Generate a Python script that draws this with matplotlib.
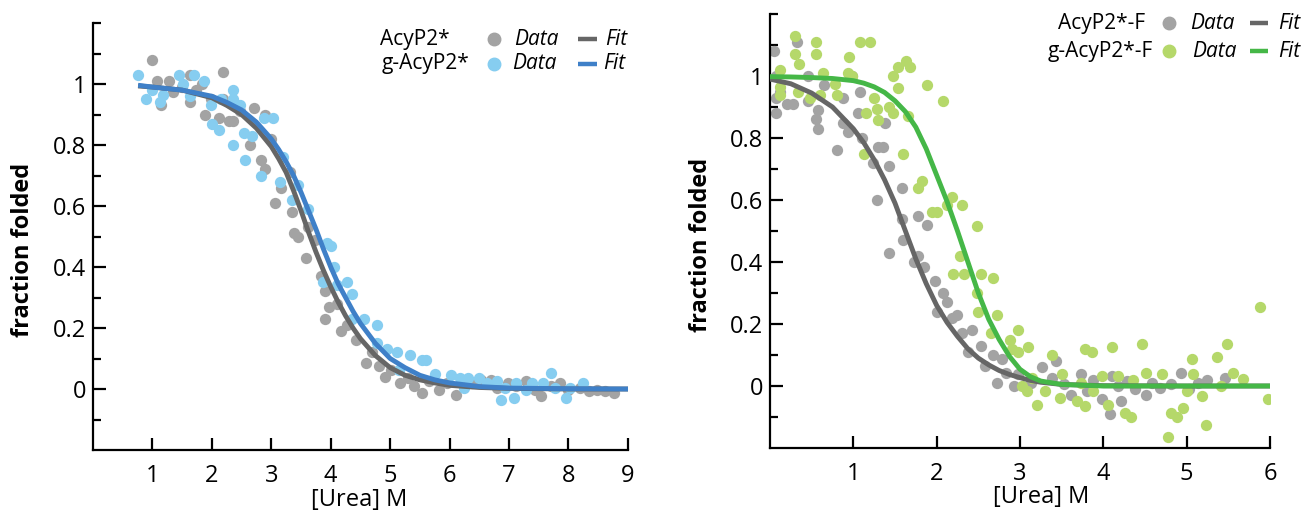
import numpy as np
import matplotlib.pyplot as plt
from matplotlib.ticker import FixedLocator

plt.rcParams['font.family'] = ['Open Sans', 'DejaVu Sans']

# --- lewy panel: AcyP2* / g-AcyP2* ---
acy_x = [1.0, 1.07, 1.14, 1.28, 1.35, 1.49, 1.63, 1.63, 1.73, 1.84, 1.89, 1.98, 2.12, 2.19, 2.19,
         2.29, 2.36, 2.47, 2.64, 2.71, 2.82, 2.89, 2.89, 2.99, 3.06, 3.17, 3.31, 3.34, 3.38, 3.45,
         3.59, 3.62, 3.73, 3.83, 3.90, 3.90, 3.97, 4.11, 4.18, 4.28, 4.42, 4.60, 4.70, 4.81, 4.91,
         5.02, 5.16, 5.30, 5.40, 5.54, 5.65, 5.82, 5.96, 6.10, 6.24, 6.38, 6.52, 6.69, 6.80, 6.98,
         7.11, 7.29, 7.43, 7.53, 7.71, 7.85, 7.99, 8.20, 8.34, 8.48, 8.62, 8.76]
acy_y = [1.08, 1.01, 0.93, 1.01, 0.975, 0.99, 0.94, 1.03, 0.98, 1.00, 0.90, 0.95, 0.89, 1.04, 0.95,
         0.88, 0.88, 0.91, 0.80, 0.92, 0.75, 0.90, 0.72, 0.82, 0.61, 0.66, 0.71, 0.58, 0.51, 0.50,
         0.43, 0.53, 0.49, 0.37, 0.32, 0.23, 0.27, 0.28, 0.19, 0.21, 0.16, 0.085, 0.12, 0.074, 0.04,
         0.063, 0.02, 0.036, 0.01, -0.013, 0.025, -0.002, 0.02, -0.02, 0.01, 0.02, 0.03, 0.03, 0.003, 0.02,
         0.01, 0.025, -0.002, -0.024, 0.01, 0.02, -0.002, 0.003, -0.008, -0.002, -0.008, -0.013]

gacy_x = [0.76, 0.90, 1.0, 1.13, 1.17, 1.45, 1.52, 1.63, 1.70, 1.87, 1.98, 2.01, 2.12, 2.15, 2.35,
          2.36, 2.36, 2.47, 2.54, 2.56, 2.68, 2.83, 2.87, 3.03, 3.15, 3.20, 3.34, 3.45, 3.62, 3.94,
          4.00, 3.87, 4.06, 4.11, 4.28, 4.35, 4.35, 4.56, 4.77, 4.77, 4.94, 5.12, 5.15, 5.33, 5.54,
          5.61, 5.75, 6.03, 6.17, 6.24, 6.31, 6.49, 6.63, 6.80, 6.87, 6.94, 7.08, 7.11, 7.29, 7.39,
          7.57, 7.71, 7.78, 7.96, 8.03, 8.24]
gacy_y = [1.03, 0.95, 0.98, 0.94, 0.965, 1.03, 1.00, 0.96, 1.03, 1.01, 0.93, 0.87, 0.85, 0.95, 0.98,
          0.95, 0.80, 0.93, 0.84, 0.75, 0.83, 0.70, 0.89, 0.89, 0.68, 0.76, 0.62, 0.67, 0.59, 0.48,
          0.47, 0.35, 0.40, 0.34, 0.35, 0.31, 0.23, 0.23, 0.21, 0.15, 0.13, 0.12, 0.063, 0.11, 0.096,
          0.096, 0.05, 0.047, 0.036, 0.003, 0.036, 0.036, 0.02, 0.025, -0.035, 0.003, -0.03, 0.02, -0.002, 0.02,
          0.02, 0.052, 0.003, -0.03, 0.003, 0.02]

# krzywe dopasowania
fit1_x = [0.8, 1.0, 1.5, 2.0, 2.25, 2.5, 2.75, 3.0, 3.125, 3.25, 3.375, 3.5, 3.625, 3.75, 3.875,
          4.0, 4.125, 4.25, 4.375, 4.5, 4.75, 5.0, 5.25, 5.5, 5.75, 6.0, 6.5, 7.0, 8.0, 9.0]
acy_fit = [0.993, 0.99, 0.98, 0.955, 0.93, 0.90, 0.855, 0.795, 0.755, 0.71, 0.65, 0.585, 0.515, 0.45, 0.39,
           0.335, 0.285, 0.24, 0.20, 0.165, 0.11, 0.07, 0.045, 0.03, 0.02, 0.012, 0.005, 0.002, 0.0, 0.0]
gacy_fit = [0.995, 0.99, 0.98, 0.96, 0.94, 0.915, 0.875, 0.82, 0.785, 0.745, 0.70, 0.645, 0.585, 0.525, 0.46,
            0.40, 0.345, 0.30, 0.255, 0.215, 0.15, 0.10, 0.07, 0.045, 0.03, 0.02, 0.008, 0.003, 0.001, 0.0]

# --- prawy panel: AcyP2*-F / g-AcyP2*-F ---
acyf_x = [0.05, 0.075, 0.075, 0.075, 0.125, 0.20, 0.28, 0.32, 0.45, 0.45, 0.55, 0.58, 0.58, 0.65, 0.80,
          0.88, 0.88, 0.93, 0.98, 1.05, 1.08, 1.10, 1.23, 1.28, 1.30, 1.38, 1.35, 1.43, 1.43, 1.58,
          1.58, 1.60, 1.73, 1.78, 1.78, 1.85, 1.88, 1.98, 2.0, 2.08, 2.13, 2.18, 2.25, 2.30, 2.43,
          2.38, 2.53, 2.58, 2.68, 2.73, 2.78, 2.83, 2.93, 2.98, 3.13, 3.26, 3.38, 3.43, 3.53, 3.61,
          3.73, 3.81, 3.88, 3.98, 4.08, 4.11, 4.18, 4.21, 4.28, 4.38, 4.51, 4.58, 4.68, 4.81, 4.93,
          5.03, 5.14, 5.24, 5.46]
acyf_y = [1.08, 1.0, 0.93, 0.88, 0.95, 0.91, 0.91, 1.11, 1.0, 0.92, 0.86, 0.89, 0.83, 0.97, 0.76,
          0.85, 0.93, 0.82, 1.00, 0.88, 0.95, 0.80, 0.72, 0.60, 0.77, 0.85, 0.77, 0.71, 0.43, 0.64,
          0.54, 0.47, 0.40, 0.42, 0.55, 0.385, 0.52, 0.34, 0.24, 0.30, 0.27, 0.22, 0.23, 0.17, 0.18,
          0.11, 0.13, 0.065, 0.10, 0.01, 0.087, 0.043, 0.0, 0.038, 0.01, 0.06, 0.027, 0.08, 0.005, -0.03,
          0.038, -0.016, 0.02, -0.043, -0.09, 0.033, 0.0, -0.05, 0.016, -0.01, -0.03, 0.01, -0.005, 0.005, 0.043,
          -0.01, 0.01, 0.02, 0.027]

gacyf_x = [0.125, 0.125, 0.125, 0.30, 0.30, 0.33, 0.35, 0.48, 0.55, 0.55, 0.60, 0.63, 0.78, 0.80, 0.93,
           0.95, 0.98, 1.08, 1.13, 1.15, 1.20, 1.25, 1.28, 1.30, 1.43, 1.48, 1.48, 1.53, 1.53, 1.60,
           1.63, 1.65, 1.68, 1.78, 1.83, 1.88, 1.95, 2.0, 2.08, 2.13, 2.18, 2.30, 2.28, 2.20, 2.33,
           2.48, 2.48, 2.50, 2.53, 2.68, 2.73, 2.65, 2.88, 2.98, 2.90, 2.98, 3.10, 3.03, 3.08, 3.15,
           3.20, 3.30, 3.38, 3.48, 3.51, 3.68, 3.73, 3.78, 3.78, 3.86, 3.88, 3.98, 4.06, 4.11, 4.18,
           4.26, 4.33, 4.36, 4.46, 4.51, 4.71, 4.78, 4.81, 4.88, 4.96, 5.01, 5.06, 5.08, 5.18, 5.23,
           5.36, 5.41, 5.48, 5.56, 5.68, 5.88, 5.98]
gacyf_y = [1.02, 0.965, 0.94, 1.13, 1.07, 0.95, 1.04, 0.93, 1.11, 1.07, 0.94, 1.01, 0.975, 0.94, 1.01,
           1.06, 1.0, 1.11, 0.75, 0.88, 1.11, 0.93, 0.895, 0.857, 0.90, 0.88, 1.0, 1.03, 0.96, 0.75,
           1.05, 0.87, 1.03, 0.64, 0.66, 0.97, 0.56, 0.56, 0.92, 0.585, 0.61, 0.585, 0.42, 0.36, 0.36,
           0.515, 0.30, 0.24, 0.36, 0.35, 0.23, 0.17, 0.15, 0.18, 0.12, 0.11, 0.125, 0.0, -0.016, 0.027,
           -0.06, -0.016, 0.10, -0.04, 0.038, -0.05, 0.01, -0.065, 0.12, 0.11, -0.016, 0.033, -0.06, 0.125, 0.033,
           -0.087, -0.10, 0.02, 0.135, 0.043, 0.038, -0.163, -0.087, -0.10, -0.07, -0.016, 0.087, 0.038, -0.033, -0.125,
           0.092, 0.0, 0.135, 0.043, 0.022, 0.255, -0.043]

fit2_x = [0.0, 0.25, 0.5, 0.75, 1.0, 1.125, 1.25, 1.375, 1.5, 1.625, 1.75, 1.875, 2.0, 2.125,
          2.25, 2.375, 2.5, 2.625, 2.75, 2.875, 3.0, 3.125, 3.25, 3.5, 4.0, 5.0, 6.0]
acyf_fit = [0.99, 0.975, 0.945, 0.90, 0.83, 0.785, 0.73, 0.665, 0.59, 0.50, 0.41, 0.33, 0.26, 0.205,
            0.16, 0.12, 0.09, 0.068, 0.05, 0.037, 0.027, 0.018, 0.012, 0.005, 0.001, 0.0, 0.0]
gacyf_fit = [0.998, 0.997, 0.995, 0.992, 0.985, 0.977, 0.965, 0.947, 0.92, 0.885, 0.835, 0.765, 0.68, 0.595,
             0.50, 0.40, 0.30, 0.215, 0.15, 0.095, 0.054, 0.03, 0.016, 0.005, 0.0, 0.0, 0.0]

y_major = [0, 0.2, 0.4, 0.6, 0.8, 1.0]
y_major_labels = ['0', '0.2', '0.4', '0.6', '0.8', '1']
y_minor = [-0.1, 0.1, 0.3, 0.5, 0.7, 0.9, 1.1, 1.2]

GRAY_DOT = '#a3a3a3'
GRAY_LINE = '#666666'
BLUE_DOT = '#86cdf0'
BLUE_LINE = '#3f80c8'
GREEN_DOT = '#b5d86a'
GREEN_LINE = '#45b747'


def ustaw_os(ax, xticks, xlim):
    ax.set_xlim(*xlim)
    ax.set_ylim(-0.2, 1.2)
    ax.set_xticks(xticks)
    ax.set_xticklabels([str(v) for v in xticks])
    ax.set_yticks(y_major)
    ax.set_yticklabels(y_major_labels)
    ax.yaxis.set_minor_locator(FixedLocator(y_minor))
    for s in ['top', 'right']:
        ax.spines[s].set_visible(False)
    for s in ['left', 'bottom']:
        ax.spines[s].set_linewidth(1.6)
    ax.tick_params(axis='both', which='major', direction='in', length=9, width=1.6,
                   labelsize=17)
    ax.tick_params(axis='y', which='major', pad=5)
    ax.tick_params(axis='x', which='major', pad=10)
    ax.tick_params(axis='y', which='minor', direction='in', length=5.5, width=1.6)
    ax.set_ylabel('fraction folded', fontsize=17, fontweight='bold')
    ax.set_xlabel('[Urea] M', fontsize=17)


def legenda(ax, wiersze):
    # wiersze: (nazwa, x_nazwy, y, kolor kropki, kolor linii, x_kropki, x_data, x_linii, x_fit)
    for nazwa, xn, y, kd, kl, xk, xd, xl, xf in wiersze:
        ax.text(xn, y, nazwa, transform=ax.transAxes, fontsize=15, va='center', ha='left')
        ax.plot([xk], [y], 'o', color=kd, ms=9, transform=ax.transAxes, clip_on=False)
        ax.text(xd, y, 'Data', transform=ax.transAxes, fontsize=15, style='italic',
                va='center', ha='left')
        ax.plot([xl, xl + 0.036], [y, y], '-', color=kl, lw=3.2, transform=ax.transAxes,
                clip_on=False, solid_capstyle='butt')
        ax.text(xf, y, 'Fit', transform=ax.transAxes, fontsize=15, style='italic',
                va='center', ha='left')


fig = plt.figure(figsize=(13.06, 5.15), dpi=100)
ax1 = fig.add_axes([0.0712, 0.1262, 0.4096, 0.8291])
ax2 = fig.add_axes([0.5896, 0.1301, 0.3828, 0.8427])

ax1.scatter(acy_x, acy_y, s=66, color=GRAY_DOT, linewidths=0, zorder=2)
ax1.scatter(gacy_x, gacy_y, s=66, color=BLUE_DOT, linewidths=0, zorder=3)
ax1.plot(fit1_x, acy_fit, color=GRAY_LINE, lw=3.5, zorder=4)
ax1.plot(fit1_x, gacy_fit, color=BLUE_LINE, lw=3.5, zorder=5)
ustaw_os(ax1, [1, 2, 3, 4, 5, 6, 7, 8, 9], (0, 9))
ax1.yaxis.set_label_coords(-0.108, 0.468)
ax1.xaxis.set_label_coords(0.497, -0.088)
legenda(ax1, [('AcyP2*', 0.536, 0.962, GRAY_DOT, GRAY_LINE, 0.750, 0.787, 0.907, 0.957),
              ('g-AcyP2*', 0.540, 0.905, BLUE_DOT, BLUE_LINE, 0.750, 0.783, 0.907, 0.954)])

ax2.scatter(acyf_x, acyf_y, s=66, color=GRAY_DOT, linewidths=0, zorder=2)
ax2.scatter(gacyf_x, gacyf_y, s=66, color=GREEN_DOT, linewidths=0, zorder=3)
ax2.plot(fit2_x, acyf_fit, color=GRAY_LINE, lw=3.5, zorder=4)
ax2.plot(fit2_x, gacyf_fit, color=GREEN_LINE, lw=3.5, zorder=5)
ustaw_os(ax2, [1, 2, 3, 4, 5, 6], (0, 6))
ax2.yaxis.set_label_coords(-0.114, 0.468)
ax2.xaxis.set_label_coords(0.542, -0.086)
legenda(ax2, [('AcyP2*-F', 0.576, 0.979, GRAY_DOT, GRAY_LINE, 0.798, 0.84, 0.96, 1.016),
              ('g-AcyP2*-F', 0.556, 0.914, GREEN_DOT, GREEN_LINE, 0.798, 0.844, 0.96, 1.016)])

plt.savefig('out.png', dpi=100)
